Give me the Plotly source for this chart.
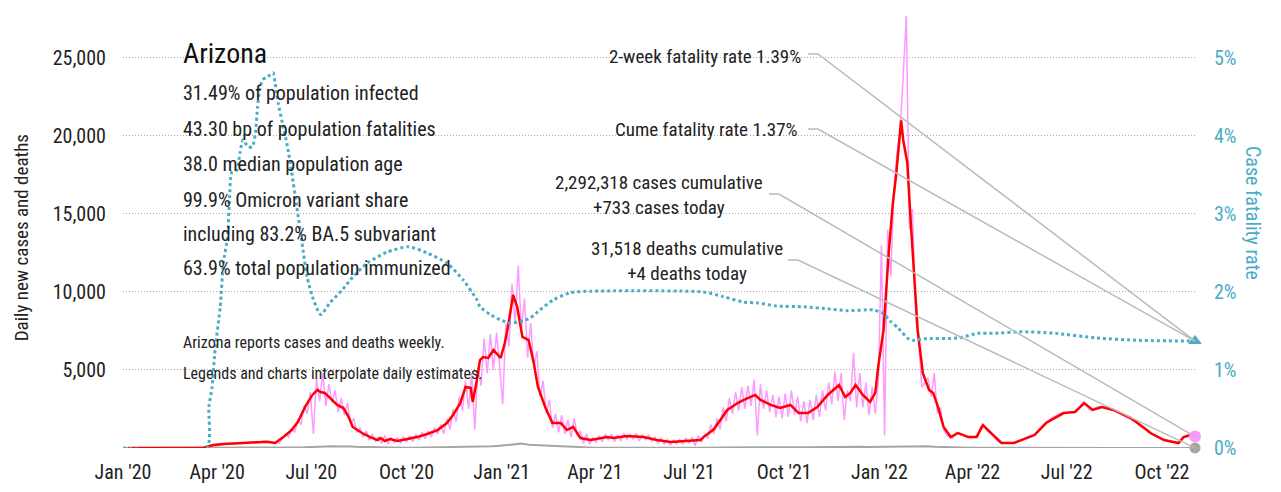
import pandas as pd
import plotly.graph_objects as go

# ---- data ----
# 7-day average of new cases (red line)
avg_dates = [
    "2020-01-06", "2020-03-18", "2020-03-28", "2020-04-07", "2020-04-26", "2020-05-10", "2020-05-19", "2020-05-27",
    "2020-06-04", "2020-06-12", "2020-06-18", "2020-06-25", "2020-07-02", "2020-07-07", "2020-07-10", "2020-07-14",
    "2020-07-19", "2020-07-26", "2020-08-01", "2020-08-06", "2020-08-10", "2020-08-19", "2020-08-27", "2020-09-03",
    "2020-09-06", "2020-09-10", "2020-09-15", "2020-09-22", "2020-10-02", "2020-10-11", "2020-10-21", "2020-10-31",
    "2020-11-09", "2020-11-15", "2020-11-22", "2020-11-27", "2020-12-02", "2020-12-04", "2020-12-08", "2020-12-11",
    "2020-12-14", "2020-12-19", "2020-12-24", "2020-12-31", "2021-01-04", "2021-01-07", "2021-01-12", "2021-01-16",
    "2021-01-21", "2021-01-27", "2021-02-01", "2021-02-05", "2021-02-12", "2021-02-19", "2021-02-27", "2021-03-05",
    "2021-03-11", "2021-03-18", "2021-03-28", "2021-04-13", "2021-04-19", "2021-05-02", "2021-05-18", "2021-05-31",
    "2021-06-13", "2021-06-26", "2021-07-12", "2021-07-15", "2021-07-25", "2021-08-07", "2021-08-17", "2021-08-23",
    "2021-08-29", "2021-09-03", "2021-09-08", "2021-09-18", "2021-09-27", "2021-10-07", "2021-10-15", "2021-10-24",
    "2021-11-02", "2021-11-12", "2021-11-23", "2021-11-29", "2021-12-04", "2021-12-09", "2021-12-16", "2021-12-23",
    "2021-12-28", "2021-12-31", "2022-01-05", "2022-01-10", "2022-01-14", "2022-01-17", "2022-01-20", "2022-01-22",
    "2022-01-24", "2022-01-28", "2022-01-31", "2022-02-03", "2022-02-07", "2022-02-12", "2022-02-18", "2022-02-22",
    "2022-02-27", "2022-03-04", "2022-03-11", "2022-03-18", "2022-03-28", "2022-04-05", "2022-04-11", "2022-04-21",
    "2022-04-29", "2022-05-11", "2022-05-31", "2022-06-11", "2022-06-28", "2022-07-09", "2022-07-18", "2022-07-26",
    "2022-08-04", "2022-08-15", "2022-09-01", "2022-09-14", "2022-09-20", "2022-10-03", "2022-10-17", "2022-10-22",
    "2022-10-29", "2022-11-02",
]
avg_cases = [
    0, 0, 190, 260, 320, 380, 400, 320,
    700, 1150, 1670, 2630, 3400, 3720, 3590, 3530,
    3200, 2760, 2560, 2000, 1350, 960, 700, 510,
    640, 450, 580, 450, 580, 700, 900, 1150,
    1600, 2120, 2880, 3910, 3850, 2950, 4360, 5640,
    5830, 5770, 6280, 5770, 6730, 7760, 9810, 9040,
    7120, 6920, 5450, 3910, 2630, 1600, 1600, 1150,
    1350, 640, 510, 700, 640, 770, 700, 510,
    380, 450, 510, 700, 1200, 2440, 2880, 3080,
    3270, 3400, 3080, 2760, 2560, 2760, 2240, 2240,
    2630, 3400, 4040, 3270, 3530, 4040, 3400, 2950,
    3530, 5300, 7560, 12500, 15700, 17400, 19550, 21000,
    19740, 18270, 14800, 11400, 7560, 4800, 3720, 3530,
    2560, 1350, 700, 960, 700, 700, 1470, 830,
    320, 320, 830, 1600, 2240, 2310, 2880, 2440,
    2630, 2440, 1920, 1280, 960, 510, 320, 700,
    830, 700,
]

# daily reported / interpolated new cases (pink line), every 3rd day up to the last date
daily_cases = [
    0, 0, 0, 0, 0, 0, 0, 0, 0, 0, 0, 0, 0, 0, 0, 0, 0, 0, 0, 0, 0, 0, 0, 0, 0, 0, 0,
    40, 90, 150, 200, 230, 280, 250, 300, 260, 330, 290, 360, 300, 380, 320, 420, 350, 450, 380, 420, 350, 380, 300,
    600, 900, 700, 1300, 1000, 1800, 1500, 2700, 2200, 3600, 900, 4500, 3000, 4800, 2700, 4100, 2900, 3700, 2300, 3200,
    2100, 2900, 1500, 1900, 1000, 1300, 700, 1100, 500, 900, 450, 700, 300, 800, 250, 700, 350, 650, 300, 700,
    400, 800, 400, 900, 500, 1000, 600, 1100, 700, 1300, 900, 1500, 900, 1900, 1200, 2500, 1700, 3300, 2400, 4300,
    2500, 4800,
    1200, 5200, 4000, 7000, 4800, 7300, 5000, 7400, 5200, 2800, 8000,
    6500, 10500, 8000, 11700, 7500, 9600, 5800, 8000, 5200, 6200, 3300, 4300, 2200, 3100, 1300, 2200, 1000, 2100, 900,
    1800, 700, 1900, 800, 1100, 300, 900, 250, 700, 350,
    800, 400, 900, 500, 900, 400, 850, 450, 950, 550, 900, 550, 950, 450, 850, 500, 850, 400, 700, 300,
    650, 250, 550, 200, 500, 250, 550, 250, 650, 300, 700,
    150, 800, 350, 900, 600, 1500, 900, 1900, 1200, 2600, 1700, 3200, 2200, 3600, 2400, 3900, 2500, 4000, 2700, 4400,
    800, 4100,
    2500, 3700, 2300, 3400, 2000, 3300, 1900, 3500, 2000, 3700, 2100, 3300, 1700, 3000, 1600, 3100, 1800, 3400, 2000, 3700,
    2400, 4200, 2800, 4900, 3000, 4800, 1800, 3700, 3000, 6100, 2600, 4800, 2600, 4200, 2100, 3900, 2200, 4300,
    13000, 800, 14000, 11000, 16500, 18900, 20300, 23900, 27700, 14000, 15300, 8400, 6700, 3900, 4200, 4500, 3300, 4800,
    2200, 2600, 1200, 800,
    700, 650, 1000, 950, 850, 750, 700, 650, 700, 900, 1400, 1450, 1100, 950, 800, 550, 350, 300, 320, 300,
    330, 350, 420, 520, 620, 720, 800, 850, 1000, 1250, 1450, 1600, 1800, 1950, 2050, 2150, 2250, 2250, 2250, 2300,
    2300, 2450, 2700, 2950, 2750, 2450, 2450, 2600, 2650, 2650, 2600, 2500, 2450, 2400, 2300, 2200, 2100, 2000, 1900, 1800,
    1650, 1450, 1300, 1150, 1000, 900, 800, 750, 650, 550, 450, 400, 380, 350, 330, 600, 800, 850, 800, 733,
]

# daily deaths (gray line), weekly up to the last date
daily_deaths = [
    0, 0, 0, 0, 0, 0, 0, 0, 0, 0, 0, 0,
    2, 6, 14, 18, 12, 20, 14, 22, 15, 20, 18, 28, 30, 45, 60, 85, 100, 120, 90, 110, 75, 60, 45, 40,
    25, 22, 15, 18, 12, 20, 15, 22, 25, 35, 40, 55, 60, 85, 95, 120, 150, 180, 250, 280, 210, 190,
    150, 120, 85, 70, 45, 35, 25, 20,
    15, 12, 18, 14, 16, 10, 15, 12, 14, 9, 12, 8, 10, 12, 15, 18,
    25, 30, 40, 45, 55, 60, 50, 65, 55, 60, 50, 55, 45, 55, 60, 65, 75, 60, 80, 70, 85, 65, 60, 70,
    75, 80, 90, 100, 110, 120, 80, 60, 40, 30, 22,
    20, 18, 15, 12, 10, 10, 10, 12, 14, 15, 15, 16, 15, 15, 14, 12, 10, 10, 9, 8, 8, 7, 7, 6, 6, 5,
    5, 5, 5, 4, 4, 4,
]

# case fatality rate, percent (blue dotted line, right axis)
cfr_dates = [
    "2020-01-01", "2020-03-22", "2020-03-24", "2020-03-27", "2020-03-30", "2020-04-04", "2020-04-07", "2020-04-11",
    "2020-04-13", "2020-04-15", "2020-04-20", "2020-04-23", "2020-04-26", "2020-05-01", "2020-05-05", "2020-05-08",
    "2020-05-10", "2020-05-12", "2020-05-15", "2020-05-20", "2020-05-25", "2020-05-27", "2020-05-30", "2020-06-03",
    "2020-06-08", "2020-06-12", "2020-06-17", "2020-06-22", "2020-06-27", "2020-07-02", "2020-07-10", "2020-07-19",
    "2020-07-31", "2020-08-10", "2020-08-24", "2020-09-12", "2020-10-03", "2020-10-21", "2020-11-09", "2020-11-25",
    "2020-12-08", "2020-12-11", "2020-12-21", "2020-12-31", "2021-01-09", "2021-01-19", "2021-01-29", "2021-02-07",
    "2021-02-20", "2021-03-08", "2021-03-28", "2021-07-15", "2021-08-03", "2021-08-23", "2021-09-05", "2021-09-24",
    "2021-10-20", "2021-11-15", "2021-12-01", "2021-12-26", "2022-01-04", "2022-01-12", "2022-01-19", "2022-01-28",
    "2022-02-02", "2022-02-13", "2022-03-18", "2022-04-06", "2022-04-21", "2022-05-19", "2022-06-20", "2022-07-30",
    "2022-09-09", "2022-11-02",
]
cfr_pct = [
    0, 0, 0.53, 0.77, 1.26, 1.81, 2.37, 2.70,
    3.21, 3.53, 3.56, 3.78, 3.95, 3.86, 3.86, 4.04,
    4.37, 4.59, 4.72, 4.76, 4.81, 4.68, 4.42, 4.17,
    3.86, 3.53, 3.09, 2.63, 2.19, 1.94, 1.71, 1.86,
    2.03, 2.19, 2.37, 2.51, 2.58, 2.50, 2.37, 2.15,
    1.90, 1.81, 1.71, 1.64, 1.60, 1.62, 1.67, 1.77,
    1.90, 1.99, 2.01, 2.00, 1.94, 1.87, 1.86, 1.82,
    1.81, 1.78, 1.76, 1.77, 1.73, 1.62, 1.54, 1.41,
    1.38, 1.40, 1.41, 1.47, 1.47, 1.49, 1.47, 1.41,
    1.38, 1.37,
]

stat_lines = [
    "31.49% of population infected",
    "43.30 bp of population fatalities",
    "38.0 median population age",
    "99.9% Omicron variant share",
    "including 83.2% BA.5 subvariant",
    "63.9% total population immunized",
]
note_lines = [
    "Arizona reports cases and deaths weekly.",
    "Legends and charts interpolate daily estimates.",
]

START, END = "2020-01-01", "2022-11-02"
raw_dates = pd.date_range(end=END, periods=len(daily_cases), freq="3D")
death_dates = pd.date_range(end=END, periods=len(daily_deaths), freq="7D")
cfr = [v / 100 for v in cfr_pct]

# ---- styling ----
FONT = "Liberation Sans Narrow, Arial Narrow, Roboto Condensed, DejaVu Sans Condensed, sans-serif"
TEXT = "#222222"
PINK = "#ff99ff"
RED = "#ff0000"
GRAY = "#a6a6a6"
TEAL = "#4bacc6"
LEADER = "#bbbbbb"

Y_MAX = 27750            # left axis top (cases)
Y2_MAX = Y_MAX / 500000  # right axis top, 5,000 cases <-> 1%

fig = go.Figure()

fig.add_trace(go.Scatter(x=raw_dates, y=daily_cases, mode="lines",
                         line=dict(color=PINK, width=1.5), hoverinfo="skip"))
fig.add_trace(go.Scatter(x=death_dates, y=daily_deaths, mode="lines",
                         line=dict(color=GRAY, width=2), hoverinfo="skip"))
fig.add_trace(go.Scatter(x=avg_dates, y=avg_cases, mode="lines",
                         line=dict(color=RED, width=2.5), hoverinfo="skip"))
fig.add_trace(go.Scatter(x=cfr_dates, y=cfr, mode="lines", yaxis="y2",
                         line=dict(color=TEAL, width=3, dash="dot", shape="spline", smoothing=0.6),
                         hoverinfo="skip"))

# end-point markers
fig.add_trace(go.Scatter(x=[raw_dates[-1]], y=[daily_cases[-1]], mode="markers", cliponaxis=False,
                         marker=dict(color=PINK, size=12)))
fig.add_trace(go.Scatter(x=[death_dates[-1]], y=[daily_deaths[-1]], mode="markers", cliponaxis=False,
                         marker=dict(color=GRAY, size=11)))
fig.add_trace(go.Scatter(x=[cfr_dates[-1]], y=[cfr[-1]], mode="markers", yaxis="y2", cliponaxis=False,
                         marker=dict(color=TEAL, size=12, symbol="triangle-up")))

annotations = []
annotations.append(dict(text="Arizona", x=0.054, y=0.912, xref="paper", yref="paper",
                        xanchor="left", yanchor="middle", showarrow=False,
                        font=dict(size=28, color="#111111")))
for line, yp in zip(stat_lines, [0.820, 0.737, 0.656, 0.573, 0.494, 0.416]):
    annotations.append(dict(text=line, x=0.054, y=yp, xref="paper", yref="paper",
                            xanchor="left", yanchor="middle", showarrow=False,
                            font=dict(size=20, color=TEXT)))
for line, yp in zip(note_lines, [0.2425, 0.1732]):
    annotations.append(dict(text=line, x=0.054, y=yp, xref="paper", yref="paper",
                            xanchor="left", yanchor="middle", showarrow=False,
                            font=dict(size=16, color=TEXT)))

# right-hand callouts with leader lines to the last data points
callouts = [
    # text, text x (right/center), text y, anchor, leader start x, leader y, end y (paper)
    ("2-week fatality rate 1.39%", 0.6343, 0.9053, "right", 0.6390, 0.910, cfr[-1] / Y2_MAX),
    ("Cume fatality rate 1.37%", 0.6315, 0.7367, "right", 0.6390, 0.7367, cfr[-1] / Y2_MAX),
    ("2,292,318 cases cumulative<br>+733 cases today", 0.4996, 0.5843, "center", 0.6026, 0.5866,
     daily_cases[-1] / Y_MAX),
    ("31,518 deaths cumulative<br>+4 deaths today", 0.5257, 0.4330, "center", 0.6203, 0.4342,
     daily_deaths[-1] / Y_MAX),
]
shapes = []
for text, tx, ty, anchor, lx, ly, ey in callouts:
    annotations.append(dict(text=text, x=tx, y=ty, xref="paper", yref="paper",
                            xanchor=anchor, yanchor="middle", align="center", showarrow=False,
                            font=dict(size=19, color=TEXT)))
    shapes.append(dict(type="path", xref="paper", yref="paper",
                       path=f"M {lx},{ly} L {lx + 0.0093},{ly} L 1,{ey}",
                       line=dict(color=LEADER, width=1.5)))

# axis titles
annotations.append(dict(text="Daily new cases and deaths", x=-0.094, y=0.485, xref="paper", yref="paper",
                        xanchor="center", yanchor="middle", textangle=-90, showarrow=False,
                        font=dict(size=19, color=TEXT)))
annotations.append(dict(text="Case fatality rate", x=1.054, y=0.543, xref="paper", yref="paper",
                        xanchor="center", yanchor="middle", textangle=90, showarrow=False,
                        font=dict(size=20, color=TEAL)))

# the page body adds an 8px margin, so the figure is drawn 8px smaller
fig.update_layout(
    width=1273, height=484,
    margin=dict(l=115, r=86, t=7, b=44),
    paper_bgcolor="white", plot_bgcolor="white",
    font=dict(family=FONT, color=TEXT, size=20),
    showlegend=False,
    annotations=annotations,
    shapes=shapes,
    xaxis=dict(type="date", range=[START, END], tick0=START, dtick="M3", tickformat="%b '%y",
               showgrid=False, zeroline=False, showline=False, ticks="",
               ticklabelstandoff=10, tickfont=dict(size=20, color=TEXT)),
    yaxis=dict(range=[0, Y_MAX], tickvals=[5000, 10000, 15000, 20000, 25000], tickformat=",",
               showgrid=True, gridcolor="#aaaaaa", gridwidth=1, griddash="1px,2px",
               zeroline=False, showline=False, ticks="", ticklabelstandoff=16,
               tickfont=dict(size=20, color=TEXT)),
    yaxis2=dict(overlaying="y", side="right", range=[0, Y2_MAX],
                tickvals=[0, 0.01, 0.02, 0.03, 0.04, 0.05], tickformat=".0%",
                showgrid=False, zeroline=False, showline=False, ticks="", ticklabelstandoff=18,
                tickfont=dict(size=20, color=TEAL)),
)

fig.write_html("out.html")
